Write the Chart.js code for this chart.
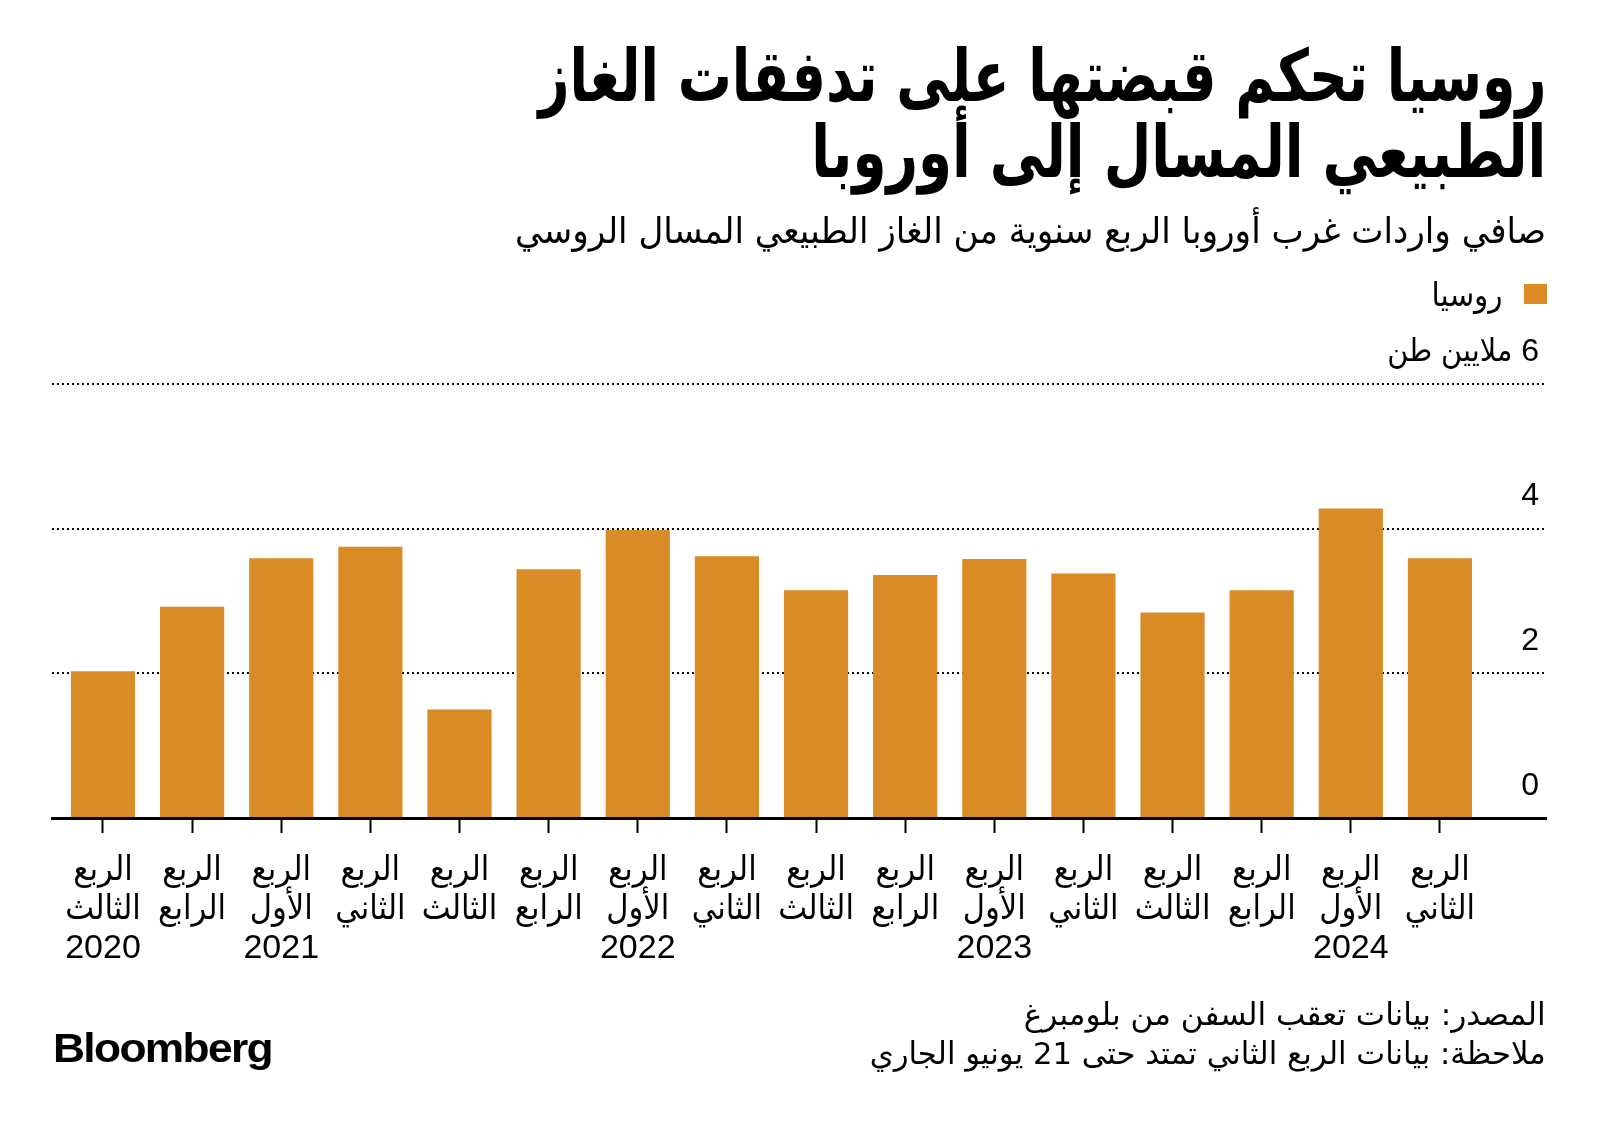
<!DOCTYPE html>
<html lang="ar">
<head>
<meta charset="utf-8">
<script src="https://cdn.jsdelivr.net/npm/chart.js@4.4.1/dist/chart.umd.min.js"></script>
<style>
html,body{margin:0;padding:0;background:#fff;}
body{width:1600px;height:1124px;position:relative;overflow:hidden;font-family:'DejaVu Sans Condensed','DejaVu Sans',sans-serif;color:#000;}
#wrap{position:absolute;left:0;top:0;width:1600px;height:1124px;}
.t{position:absolute;right:54px;white-space:nowrap;direction:rtl;transform-origin:right center;}
.t span{display:inline-block;}
#sq{position:absolute;left:1524px;top:284px;width:23px;height:20px;background:#D98B26;}
#logo{position:absolute;left:53px;top:1026px;font-family:'Liberation Sans',Arial,sans-serif;font-weight:bold;font-size:40px;line-height:44px;letter-spacing:-1.5px;transform-origin:left center;white-space:nowrap;}
</style>
</head>
<body>
<div id="wrap"><canvas id="c" dir="rtl"></canvas></div>
<div class="t fit" data-w="1008" style="top:36px;font-size:72px;font-weight:bold;line-height:80px"><span>روسيا تحكم قبضتها على تدفقات الغاز</span></div>
<div class="t fit" data-w="735" style="top:112px;font-size:72px;font-weight:bold;line-height:80px"><span>الطبيعي المسال إلى أوروبا</span></div>
<div class="t fit" data-w="1031" style="top:209px;font-size:36px;line-height:44px"><span>صافي واردات غرب أوروبا الربع سنوية من الغاز الطبيعي المسال الروسي</span></div>
<div id="sq"></div>
<div class="t fit" data-w="71" style="right:97px;top:274px;font-size:33px;line-height:42px"><span>روسيا</span></div>
<div class="t fit" data-w="522" style="top:994px;font-size:31px;line-height:40px"><span>المصدر: بيانات تعقب السفن من بلومبرغ</span></div>
<div class="t fit" data-w="676" style="top:1033px;font-size:31px;line-height:40px"><span>ملاحظة: بيانات الربع الثاني تمتد حتى 21 يونيو الجاري</span></div>
<div id="logo"><span>Bloomberg</span></div>
<script>
// ---- data ----
const quarterWord = "الربع";
const quarterNames = ["الثالث","الرابع","الأول","الثاني","الثالث","الرابع","الأول","الثاني","الثالث","الرابع","الأول","الثاني","الثالث","الرابع","الأول","الثاني"];
const yearLabels = ["2020","","2021","","","","2022","","","","2023","","","","2024",""];
const russiaValues = [2.03,2.92,3.59,3.75,1.50,3.44,3.98,3.62,3.15,3.36,3.58,3.38,2.84,3.15,4.28,3.59];
const yTicks = [0,2,4,6];
const yTickLabels = ["0","2","4","6 ملايين طن"];
const seriesName = "روسيا";

// ---- text fitting ----
function fitText(){
  document.querySelectorAll('.fit').forEach(el=>{
    const sp = el.querySelector('span');
    const w = sp.getBoundingClientRect().width;
    const target = +el.dataset.w;
    if (w>0) el.style.transform = 'scaleX(' + (target/w) + ')';
  });
  const lg = document.querySelector('#logo');
  const lw = lg.querySelector('span').getBoundingClientRect().width;
  if (lw>0) lg.style.transform = 'scaleX(' + (219/lw) + ')';
}
fitText();

const FONT = "'Liberation Sans','DejaVu Sans Condensed','DejaVu Sans',sans-serif";

const data = {
  datasets: [{
    label: seriesName,
    data: russiaValues.map((v,i)=>({x:i, y:v})),
    backgroundColor: '#D98B26',
    borderWidth: 0,
    categoryPercentage: 1,
    barPercentage: 0.72
  }]
};

new Chart(document.getElementById('c'), {
  type: 'bar',
  data: data,
  options: {
    responsive: true,
    maintainAspectRatio: false,
    animation: false,
    layout: { padding: { left: 52, right: 54, top: 384, bottom: 0 } },
    plugins: { legend: { display: false }, tooltip: { enabled: false } },
    scales: {
      x: {
        type: 'linear',
        offset: false,
        min: -0.572,
        max: 16.19,
        afterBuildTicks: (s)=>{ s.ticks = quarterNames.map((_,i)=>({value:i})); },
        afterFit: (s)=>{ s.height = 1124 - 818; },
        ticks: {
          autoSkip: false,
          maxRotation: 0,
          padding: 18,
          color: '#000',
          font: { family: FONT, size: 34, lineHeight: '39px' },
          callback: (v)=>{
            const i = Math.round(v);
            const arr = [quarterWord, quarterNames[i]];
            if (yearLabels[i]) arr.push(yearLabels[i]);
            return arr;
          }
        },
        grid: { display: true, offset: false, drawOnChartArea: false, drawTicks: true, tickLength: 15, tickWidth: 2, tickColor: '#000', color: '#000' },
        border: { display: true, color: '#000', width: 3 }
      },
      y: {
        position: 'right',
        min: 0,
        max: 6,
        afterBuildTicks: (s)=>{ s.ticks = yTicks.map(v=>({value:v})); },
        afterFit: (s)=>{ s.width = 0; },
        ticks: {
          mirror: true,
          padding: -7,
          labelOffset: -32,
          color: '#000',
          font: { family: FONT, size: 32 },
          callback: (v)=>{ const k = yTicks.indexOf(v); return k>=0 ? yTickLabels[k] : ''; }
        },
        grid: { drawTicks: false, lineWidth: 2, color: (ctx)=> ctx.tick && ctx.tick.value === 0 ? 'rgba(0,0,0,0)' : '#000' },
        border: { display: false, dash: [2,3] }
      }
    }
  }
});
</script>
</body>
</html>
